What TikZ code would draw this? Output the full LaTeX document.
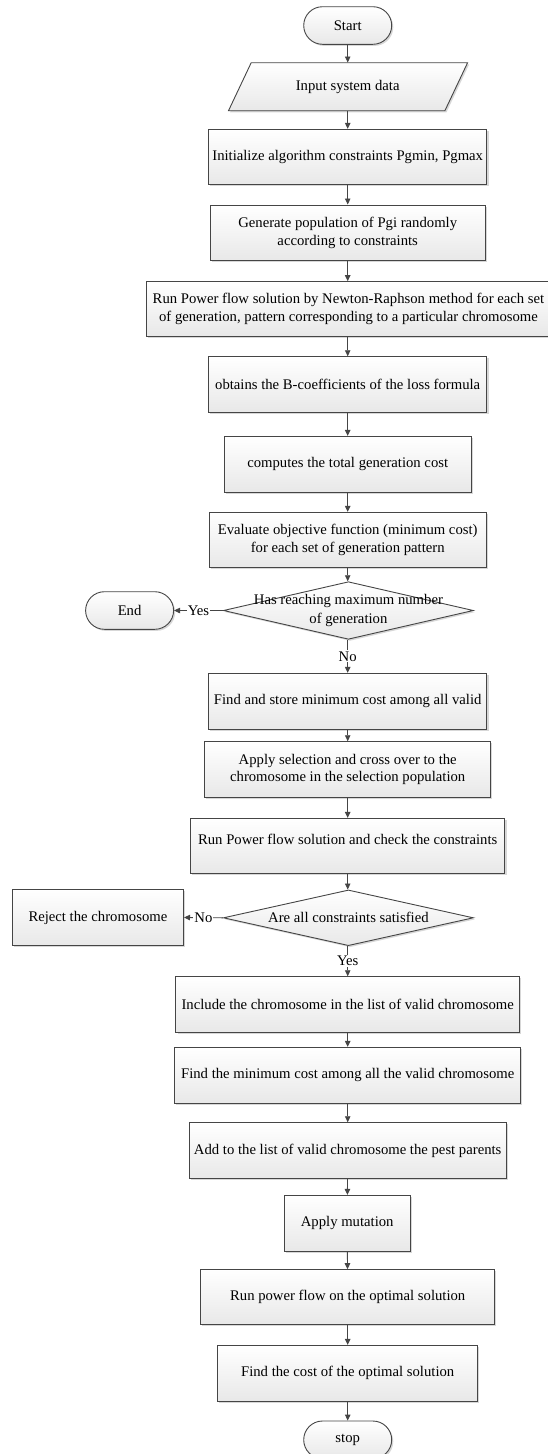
\documentclass[tikz,border=0pt]{standalone}
\usepackage{fontspec}
\setmainfont{Liberation Serif}
\usetikzlibrary{shapes.geometric,arrows.meta,shadows}
\definecolor{ln}{HTML}{454545}
\tikzset{
  shd/.style={drop shadow={shadow xshift=1.6pt,shadow yshift=-1.6pt,fill=black!35,opacity=0.45}},
  grad/.style={top color=white,bottom color=black!9},
  procbox/.style={draw=ln,line width=0.9pt,rectangle,grad,shd,align=center,inner sep=2pt},
  term/.style={draw=ln,line width=0.9pt,rectangle,rounded corners=18.8pt,minimum width=88pt,minimum height=37.6pt,grad,shd,align=center},
  decbox/.style={draw=ln,line width=0.9pt,diamond,inner sep=0pt,minimum width=250pt,grad,shd},
  arr/.style={draw=ln,line width=0.9pt,-{Triangle[length=6pt,width=5.5pt]}},
  lbl/.style={fill=white,inner sep=1pt,text=black},
}
\begin{document}
\begin{tikzpicture}[x=1pt,y=-1pt,font=\fontsize{14.7}{17.7}\selectfont]
\useasboundingbox (0,0) rectangle (547,1454);
% start
\node[term] (start) at (347.7,25.5) {Start};
% input parallelogram
\path[draw=ln,line width=0.9pt,grad,shd] (228.5,110.7) -- (251.2,62.7) -- (467.6,62.7) -- (444.9,110.7) -- cycle;
\node[minimum height=48pt,minimum width=200pt,inner sep=0pt] (input) at (347.7,86.7) {Input system data};
% boxes
\node[procbox,minimum width=278.4pt,minimum height=55pt] (init) at (347.7,156.8) {Initialize algorithm constraints Pgmin, Pgmax};
\node[procbox,minimum width=275pt,minimum height=55.7pt] (gen) at (347.7,232.8) {Generate population of Pgi randomly\\according to constraints};
\node[procbox,minimum width=404pt,minimum height=54.3pt] (run1) at (348.5,308.8) {Run Power flow solution by Newton-Raphson method for each set\\of generation, pattern corresponding to a particular chromosome};
\node[procbox,minimum width=278.4pt,minimum height=55.6pt] (bcoef) at (347.7,384.5) {obtains the B-coefficients of the loss formula};
\node[procbox,minimum width=247pt,minimum height=55.7pt] (comp) at (347.7,464.2) {computes the total generation cost};
\node[procbox,minimum width=277pt,minimum height=55pt] (eval) at (347.7,539.8) {Evaluate objective function (minimum cost)\\for each set of generation pattern};
\node[decbox,minimum height=57.6pt] (dec1) at (348.4,610.5) {};
\node[align=center] at (dec1.center) {Has reaching maximum number\\[1.3pt]of generation};
\node[term] (end) at (129.6,610.5) {End};
\node[procbox,minimum width=278.4pt,minimum height=56pt] (find) at (347.7,701.3) {Find and store minimum cost among all valid};
\node[procbox,minimum width=285.8pt,minimum height=55.6pt] (apply) at (347.7,769.5) {Apply selection and cross over to the\\chromosome in the selection population};
\node[procbox,minimum width=314.4pt,minimum height=54.7pt,label={[yshift=6.5pt,font=\fontsize{14.7}{17.7}\selectfont]center:Run Power flow solution and check the constraints}] (run2) at (347.7,845.7) {};
\node[decbox,minimum height=55.7pt] (dec2) at (348.4,917.8) {};
\node at (dec2.center) {Are all constraints satisfied};
\node[procbox,minimum width=171.3pt,minimum height=56.4pt] (reject) at (97.9,917.5) {Reject the chromosome};
\node[procbox,minimum width=343.6pt,minimum height=56pt] (incl) at (347.7,1004.7) {Include the chromosome in the list of valid chromosome};
\node[procbox,minimum width=345.7pt,minimum height=56pt] (findmin) at (347.7,1075.3) {Find the minimum cost among all the valid chromosome};
\node[procbox,minimum width=316.5pt,minimum height=56pt] (add) at (347.7,1150.7) {Add to the list of valid chromosome the pest parents};
\node[procbox,minimum width=126pt,minimum height=56pt] (mut) at (347.2,1223.3) {Apply mutation};
\node[procbox,minimum width=293.8pt,minimum height=54.7pt] (runopt) at (347.7,1297) {Run power flow on the optimal solution};
\node[procbox,minimum width=260pt,minimum height=55.7pt] (cost) at (347.7,1373.2) {Find the cost of the optimal solution};
\node[term] (stop) at (347.7,1439.8) {stop};
% connectors
\draw[arr] (start) -- (input);
\draw[arr] (input) -- (init);
\draw[arr] (init) -- (gen);
\draw[arr] (gen) -- (gen.south |- run1.north);
\draw[arr] (gen.south |- run1.south) -- (bcoef);
\draw[arr] (bcoef) -- (comp);
\draw[arr] (comp) -- (eval);
\draw[arr] (eval.south) -- (eval.south |- dec1.north);
\draw[arr] (dec1.west) -- node[lbl]{Yes} (end.east);
\draw[arr] (dec1.south -| find.north) -- node[lbl]{No} (find.north);
\draw[arr] (find) -- (apply);
\draw[arr] (apply) -- (run2);
\draw[arr] (run2.south) -- (run2.south |- dec2.north);
\draw[arr] (dec2.west) -- node[lbl]{No} (reject.east);
\draw[arr] (dec2.south -| incl.north) -- node[lbl]{Yes} (incl.north);
\draw[arr] (incl) -- (findmin);
\draw[arr] (findmin) -- (add);
\draw[arr] (add) -- (mut);
\draw[arr] (mut) -- (runopt);
\draw[arr] (runopt) -- (cost);
\draw[arr] (cost) -- (stop);
\end{tikzpicture}
\end{document}
